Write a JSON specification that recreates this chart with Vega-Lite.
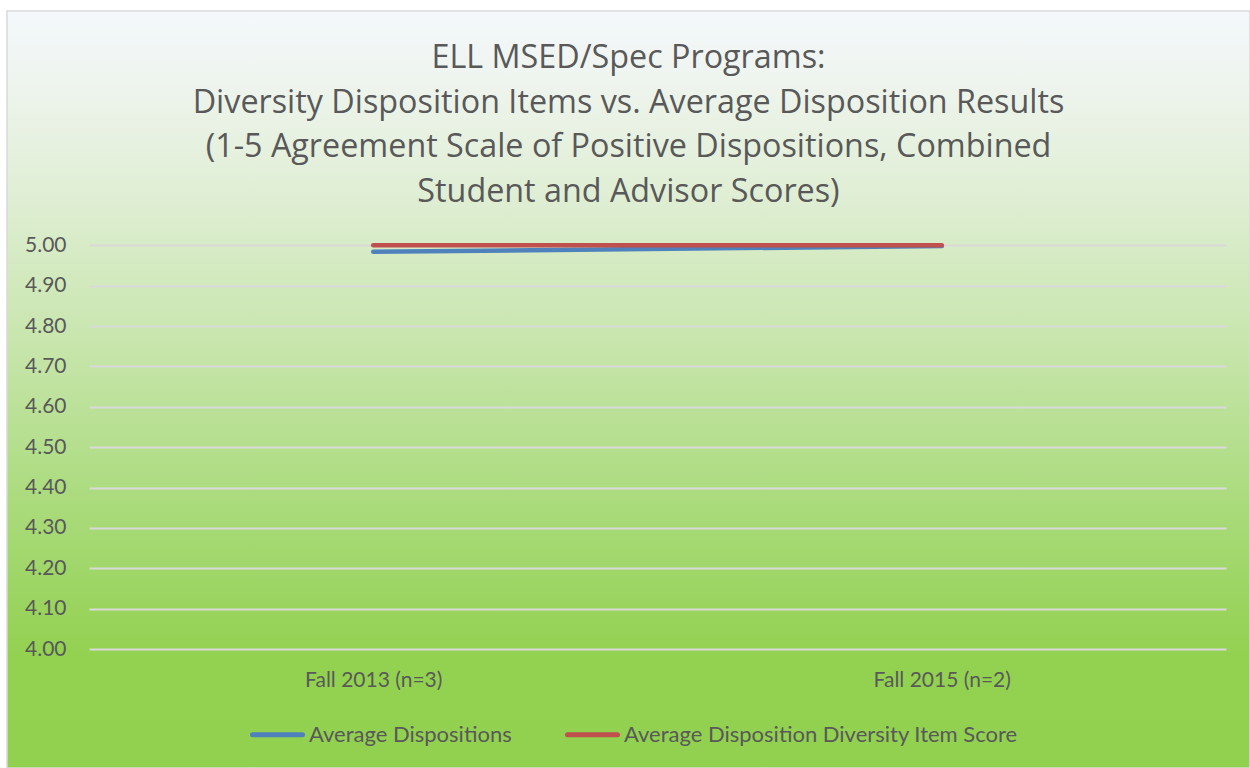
{
  "$schema": "https://vega.github.io/schema/vega-lite/v6.json",
  "autosize": "none",
  "padding": {"left": 7, "top": 11, "right": 0, "bottom": 0},
  "width": 1243,
  "height": 757,
  "background": "white",
  "title": {
    "text": ["ELL MSED/Spec Programs:", "Diversity Disposition Items vs. Average Disposition Results", "(1-5 Agreement Scale of Positive Dispositions, Combined", "Student and Advisor Scores)"],
    "orient": "top",
    "anchor": "middle",
    "frame": "group",
    "offset": -230,
    "font": "Open Sans",
    "fontSize": 32.3,
    "fontWeight": "normal",
    "color": "#595959",
    "lineHeight": 44.5,
    "baseline": "bottom"
  },
  "data": {
    "values": [
      {"term": "Fall 2013 (n=3)", "series": "Average Dispositions", "score": 4.984},
      {"term": "Fall 2015 (n=2)", "series": "Average Dispositions", "score": 4.998},
      {"term": "Fall 2013 (n=3)", "series": "Average Disposition Diversity Item Score", "score": 5.0},
      {"term": "Fall 2015 (n=2)", "series": "Average Disposition Diversity Item Score", "score": 5.0}
    ]
  },
  "mark": {"type": "line", "strokeWidth": 4.5, "strokeCap": "round"},
  "encoding": {
    "x": {
      "field": "term",
      "type": "ordinal",
      "sort": null,
      "scale": {"type": "point", "range": [82, 1219], "padding": 0.5},
      "axis": {
        "title": null,
        "offset": -119,
        "domain": false,
        "ticks": false,
        "tickSize": 0,
        "labelPadding": 31,
        "labelBaseline": "middle",
        "labelAngle": 0,
        "labelFont": "Lato",
        "labelFontSize": 21,
        "labelColor": "#595959",
        "grid": false
      }
    },
    "y": {
      "field": "score",
      "type": "quantitative",
      "scale": {"domain": [4, 5], "range": [638, 234.3], "zero": false, "nice": false},
      "axis": {
        "title": null,
        "offset": -59,
        "domain": false,
        "ticks": false,
        "tickSize": 0,
        "labelPadding": 0,
        "values": [4, 4.1, 4.2, 4.3, 4.4, 4.5, 4.6, 4.7, 4.8, 4.9, 5],
        "format": ".2f",
        "labelAlign": "right",
        "labelBaseline": "middle",
        "labelFont": "Lato",
        "labelFontSize": 21,
        "labelColor": "#595959",
        "grid": true,
        "gridColor": "#d9d9d9",
        "gridWidth": 2
      }
    },
    "color": {
      "field": "series",
      "type": "nominal",
      "sort": ["Average Dispositions", "Average Disposition Diversity Item Score"],
      "scale": {"range": ["#4f81bd", "#c0504d"]},
      "legend": {
        "orient": "none",
        "legendX": 243,
        "legendY": 696,
        "direction": "horizontal",
        "title": null,
        "symbolType": "stroke",
        "symbolSize": 2500,
        "symbolStrokeWidth": 5,
        "labelFont": "Lato",
        "labelFontSize": 22,
        "labelColor": "#595959",
        "labelOffset": 4,
        "labelLimit": 600,
        "columnPadding": 45,
        "padding": 0,
        "encode": {"symbols": {"update": {"strokeCap": {"value": "round"}}}}
      }
    }
  },
  "config": {
    "view": {
      "fill": {
        "gradient": "linear",
        "x1": 0, "y1": 0, "x2": 0, "y2": 1,
        "stops": [
          {"offset": 0, "color": "#f4f8fc"},
          {"offset": 0.1, "color": "#eef4ed"},
          {"offset": 0.25, "color": "#dfeed3"},
          {"offset": 0.45, "color": "#c6e5aa"},
          {"offset": 0.65, "color": "#aadb7c"},
          {"offset": 0.85, "color": "#93d151"},
          {"offset": 1, "color": "#92d050"}
        ]
      },
      "stroke": "#d9d9d9",
      "strokeWidth": 1.5
    }
  }
}
